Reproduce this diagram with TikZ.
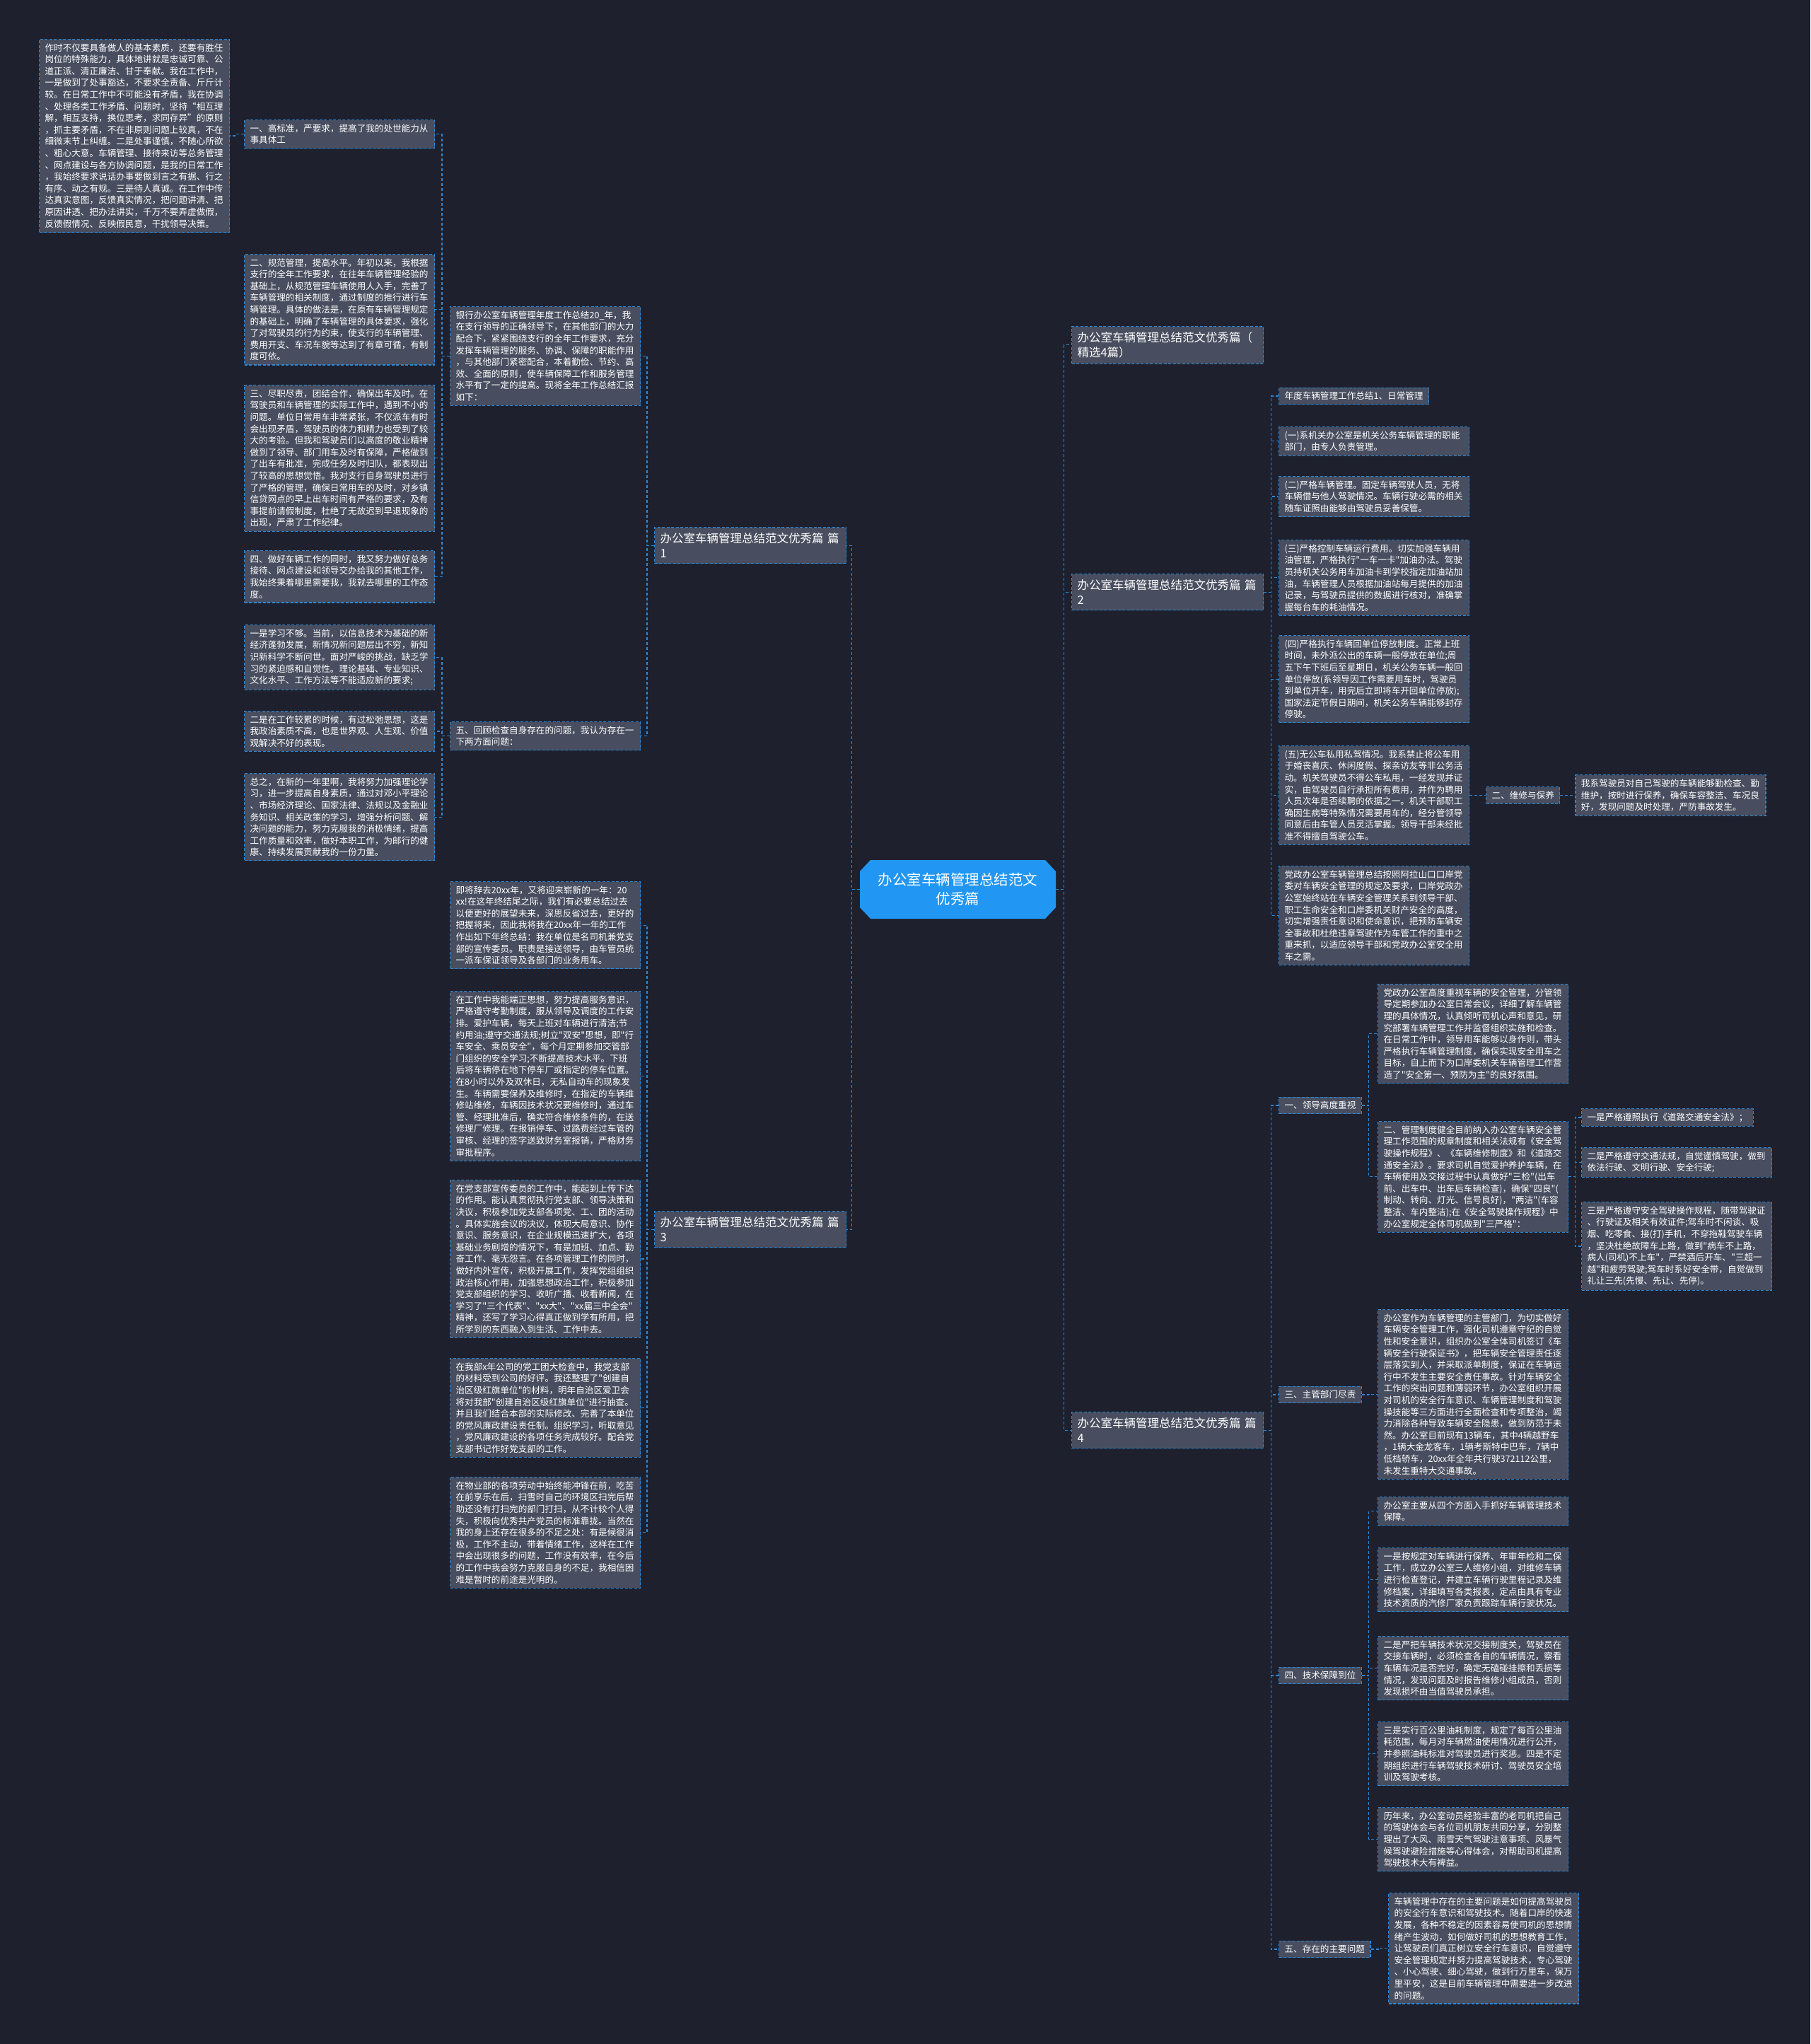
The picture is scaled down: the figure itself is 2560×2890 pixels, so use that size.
\documentclass[tikz,border=0pt]{standalone}
\usepackage{fontspec}
\setmainfont{Noto Sans CJK SC}[Ligatures=TeXOff]
\usepackage{xcolor}
\usepackage{tikz}
\usetikzlibrary{positioning}
\definecolor{pagebg}{HTML}{1E212D}
\definecolor{cardfill}{HTML}{484E5F}
\definecolor{edgeblue}{HTML}{2A88D8}
\definecolor{hubblue}{HTML}{2196F3}

\tikzset{
  base/.style={rectangle, draw=edgeblue, dash pattern=on 4pt off 2.5pt, line width=1.1pt, fill=cardfill, text=white, inner xsep=8pt, inner ysep=6pt},
  card/.style={base, anchor=north west, text width=253pt, align=left, font=\fontsize{12.6pt}{16.6pt}\selectfont},
  tag/.style={base, anchor=west, font=\fontsize{12.6pt}{16.6pt}\selectfont},
  branch/.style={base, anchor=north west, text width=255pt, align=left, inner ysep=8pt, font=\fontsize{16.5pt}{21pt}\selectfont},
  hubtext/.style={text=white, align=center, minimum width=277pt, minimum height=83pt, font=\fontsize{20.5pt}{27pt}\selectfont},
  link/.style={draw=edgeblue, dash pattern=on 4pt off 3pt, line width=1.1pt}
}

\begin{document}
\begin{tikzpicture}[x=1pt, y=-1pt]
\useasboundingbox (0,0) rectangle (2560,2890);
\fill[pagebg] (0,0) rectangle (2560,2890);

% centre
\fill[hubblue] (1231,1216) -- (1478,1216) -- (1493,1232) -- (1493,1283) -- (1478,1299) -- (1231,1299) -- (1216,1283) -- (1216,1232) -- cycle;
\node[hubtext] (hub) at (1354.5,1257.5) {办公室车辆管理总结范文\\优秀篇};

% left half
\node[branch] (p1) at (925,745) {办公室车辆管理总结范文优秀篇 篇\\1};
\node[branch] (p3) at (925,1712) {办公室车辆管理总结范文优秀篇 篇\\3};

\node[card] (m1) at (636,433) {银行办公室车辆管理年度工作总结20\_年，我\\在支行领导的正确领导下，在其他部门的大力\\配合下，紧紧围绕支行的全年工作要求，充分\\发挥车辆管理的服务、协调、保障的职能作用\\，与其他部门紧密配合，本着勤俭、节约、高\\效、全面的原则，使车辆保障工作和服务管理\\水平有了一定的提高。现将全年工作总结汇报\\如下：};
\node[card] (m2) at (636,1020) {五、回顾检查自身存在的问题，我认为存在一\\下两方面问题：};

\node[card] (l1a) at (345,169) {一、高标准，严要求，提高了我的处世能力从\\事具体工};
\node[card] (b1) at (55,55) {作时不仅要具备做人的基本素质，还要有胜任\\岗位的特殊能力，具体地讲就是忠诚可靠、公\\道正派、清正廉洁、甘于奉献。我在工作中，\\一是做到了处事豁达，不要求全责备、斤斤计\\较。在日常工作中不可能没有矛盾，我在协调\\、处理各类工作矛盾、问题时，坚持“相互理\\解，相互支持，换位思考，求同存异”的原则\\，抓主要矛盾，不在非原则问题上较真，不在\\细微末节上纠缠。二是处事谨慎，不随心所欲\\、粗心大意。车辆管理、接待来访等总务管理\\、网点建设与各方协调问题，是我的日常工作\\，我始终要求说话办事要做到言之有据、行之\\有序、动之有规。三是待人真诚。在工作中传\\达真实意图，反馈真实情况，把问题讲清、把\\原因讲透、把办法讲实，千万不要弄虚做假，\\反馈假情况、反映假民意，干扰领导决策。};
\node[card] (l1b) at (345,359) {二、规范管理，提高水平。年初以来，我根据\\支行的全年工作要求，在往年车辆管理经验的\\基础上，从规范管理车辆使用人入手，完善了\\车辆管理的相关制度，通过制度的推行进行车\\辆管理。具体的做法是，在原有车辆管理规定\\的基础上，明确了车辆管理的具体要求，强化\\了对驾驶员的行为约束，使支行的车辆管理、\\费用开支、车况车貌等达到了有章可循，有制\\度可依。};
\node[card] (l1c) at (345,544) {三、尽职尽责，团结合作，确保出车及时。在\\驾驶员和车辆管理的实际工作中，遇到不小的\\问题。单位日常用车非常紧张，不仅派车有时\\会出现矛盾，驾驶员的体力和精力也受到了较\\大的考验。但我和驾驶员们以高度的敬业精神\\做到了领导、部门用车及时有保障，严格做到\\了出车有批准，完成任务及时归队，都表现出\\了较高的思想觉悟。我对支行自身驾驶员进行\\了严格的管理，确保日常用车的及时，对乡镇\\信贷网点的早上出车时间有严格的要求，及有\\事提前请假制度，杜绝了无故迟到早退现象的\\出现，严肃了工作纪律。};
\node[card] (l1d) at (345,778) {四、做好车辆工作的同时，我又努力做好总务\\接待、网点建设和领导交办给我的其他工作，\\我始终秉着哪里需要我，我就去哪里的工作态\\度。};
\node[card] (l1e) at (345,883) {一是学习不够。当前，以信息技术为基础的新\\经济蓬勃发展，新情况新问题层出不穷，新知\\识新科学不断问世。面对严峻的挑战，缺乏学\\习的紧迫感和自觉性。理论基础、专业知识、\\文化水平、工作方法等不能适应新的要求;};
\node[card] (l1f) at (345,1005) {二是在工作较累的时候，有过松弛思想，这是\\我政治素质不高，也是世界观、人生观、价值\\观解决不好的表现。};
\node[card] (l1g) at (345,1093) {总之，在新的一年里啊，我将努力加强理论学\\习，进一步提高自身素质，通过对邓小平理论\\、市场经济理论、国家法律、法规以及金融业\\务知识、相关政策的学习，增强分析问题、解\\决问题的能力，努力克服我的消极情绪，提高\\工作质量和效率，做好本职工作，为邮行的健\\康、持续发展贡献我的一份力量。};

\node[card] (t1) at (636,1246) {即将辞去20xx年，又将迎来崭新的一年：20\\xx!在这年终结尾之际，我们有必要总结过去\\以便更好的展望未来，深思反省过去，更好的\\把握将来，因此我将我在20xx年一年的工作\\作出如下年终总结：我在单位是名司机兼党支\\部的宣传委员。职责是接送领导，由车管员统\\一派车保证领导及各部门的业务用车。};
\node[card] (t2) at (636,1401) {在工作中我能端正思想，努力提高服务意识，\\严格遵守考勤制度，服从领导及调度的工作安\\排。爱护车辆，每天上班对车辆进行清洁;节\\约用油;遵守交通法规;树立"双安"思想，即"行\\车安全、乘员安全"，每个月定期参加交管部\\门组织的安全学习;不断提高技术水平。下班\\后将车辆停在地下停车厂或指定的停车位置。\\在8小时以外及双休日，无私自动车的现象发\\生。车辆需要保养及维修时，在指定的车辆维\\修站维修，车辆因技术状况要维修时，通过车\\管、经理批准后，确实符合维修条件的，在送\\修理厂修理。在报销停车、过路费经过车管的\\审核、经理的签字送致财务室报销，严格财务\\审批程序。};
\node[card] (t3) at (636,1668) {在党支部宣传委员的工作中，能起到上传下达\\的作用。能认真贯彻执行党支部、领导决策和\\决议，积极参加党支部各项党、工、团的活动\\。具体实施会议的决议，体现大局意识、协作\\意识、服务意识，在企业规模迅速扩大，各项\\基础业务剧增的情况下，有是加班、加点、勤\\奋工作、毫无怨言。在各项管理工作的同时，\\做好内外宣传，积极开展工作，发挥党组组织\\政治核心作用，加强思想政治工作，积极参加\\党支部组织的学习、收听广播、收看新闻，在\\学习了"三个代表"、"xx大"、"xx届三中全会"\\精神，还写了学习心得真正做到学有所用，把\\所学到的东西融入到生活、工作中去。};
\node[card] (t4) at (636,1920) {在我部x年公司的党工团大检查中，我党支部\\的材料受到公司的好评。我还整理了"创建自\\治区级红旗单位"的材料，明年自治区爱卫会\\将对我部"创建自治区级红旗单位"进行抽查。\\并且我们结合本部的实际修改、完善了本单位\\的党风廉政建设责任制。组织学习，听取意见\\，党风廉政建设的各项任务完成较好。配合党\\支部书记作好党支部的工作。};
\node[card] (t5) at (636,2088) {在物业部的各项劳动中始终能冲锋在前，吃苦\\在前享乐在后，扫雪时自己的环境区扫完后帮\\助还没有打扫完的部门打扫，从不计较个人得\\失，积极向优秀共产党员的标准靠拢。当然在\\我的身上还存在很多的不足之处：有是候很消\\极，工作不主动，带着情绪工作，这样在工作\\中会出现很多的问题，工作没有效率，在今后\\的工作中我会努力克服自身的不足，我相信困\\难是暂时的前途是光明的。};

% right half
\node[branch] (r0) at (1515,461) {办公室车辆管理总结范文优秀篇（\\精选4篇）};
\node[branch] (r2) at (1515,811) {办公室车辆管理总结范文优秀篇 篇\\2};
\node[branch] (r4) at (1515,1996) {办公室车辆管理总结范文优秀篇 篇\\4};

\node[tag] (s0) at (1808,560) {年度车辆管理工作总结1、日常管理};
\node[card] (s1) at (1808,603) {(一)系机关办公室是机关公务车辆管理的职能\\部门，由专人负责管理。};
\node[card] (s2) at (1808,673) {(二)严格车辆管理。固定车辆驾驶人员，无将\\车辆借与他人驾驶情况。车辆行驶必需的相关\\随车证照由能够由驾驶员妥善保管。};
\node[card] (s3) at (1808,763) {(三)严格控制车辆运行费用。切实加强车辆用\\油管理，严格执行"一车一卡"加油办法。驾驶\\员持机关公务用车加油卡到学校指定加油站加\\油，车辆管理人员根据加油站每月提供的加油\\记录，与驾驶员提供的数据进行核对，准确掌\\握每台车的耗油情况。};
\node[card] (s4) at (1808,898) {(四)严格执行车辆回单位停放制度。正常上班\\时间，未外派公出的车辆一般停放在单位;周\\五下午下班后至星期日，机关公务车辆一般回\\单位停放(系领导因工作需要用车时，驾驶员\\到单位开车，用完后立即将车开回单位停放);\\国家法定节假日期间，机关公务车辆能够封存\\停驶。};
\node[card] (s5) at (1808,1054) {(五)无公车私用私驾情况。我系禁止将公车用\\于婚丧喜庆、休闲度假、探亲访友等非公务活\\动。机关驾驶员不得公车私用，一经发现并证\\实，由驾驶员自行承担所有费用，并作为聘用\\人员次年是否续聘的依据之一。机关干部职工\\确因生病等特殊情况需要用车的，经分管领导\\同意后由车管人员灵活掌握。领导干部未经批\\准不得擅自驾驶公车。};
\node[tag, right=23pt of s5] (s5a) {二、维修与保养};
\node[card, right=21pt of s5a] (s5b) {我系驾驶员对自己驾驶的车辆能够勤检查、勤\\维护，按时进行保养，确保车容整洁、车况良\\好，发现问题及时处理，严防事故发生。};
\node[card] (s6) at (1808,1224) {党政办公室车辆管理总结按照阿拉山口口岸党\\委对车辆安全管理的规定及要求，口岸党政办\\公室始终站在车辆安全管理关系到领导干部、\\职工生命安全和口岸委机关财产安全的高度，\\切实增强责任意识和使命意识，把预防车辆安\\全事故和杜绝违章驾驶作为车管工作的重中之\\重来抓，以适应领导干部和党政办公室安全用\\车之需。};

\node[tag] (f1) at (1808,1563) {一、领导高度重视};
\node[card] (g1) at (1948,1391) {党政办公室高度重视车辆的安全管理，分管领\\导定期参加办公室日常会议，详细了解车辆管\\理的具体情况，认真倾听司机心声和意见，研\\究部署车辆管理工作并监督组织实施和检查。\\在日常工作中，领导用车能够以身作则，带头\\严格执行车辆管理制度，确保实现安全用车之\\目标，自上而下为口岸委机关车辆管理工作营\\造了"安全第一、预防为主"的良好氛围。};
\node[card] (g2) at (1948,1585) {二、管理制度健全目前纳入办公室车辆安全管\\理工作范围的规章制度和相关法规有《安全驾\\驶操作规程》、《车辆维修制度》和《道路交\\通安全法》。要求司机自觉爱护养护车辆，在\\车辆使用及交接过程中认真做好"三检"(出车\\前、出车中、出车后车辆检查)，确保"四良"(\\制动、转向、灯光、信号良好)，"两洁"(车容\\整洁、车内整洁);在《安全驾驶操作规程》中\\办公室规定全体司机做到"三严格"：};
\node[tag] (h1) at (2236,1580) {一是严格遵照执行《道路交通安全法》；};
\node[card] (h2) at (2236,1622) {二是严格遵守交通法规，自觉谨慎驾驶，做到\\依法行驶、文明行驶、安全行驶;};
\node[card] (h3) at (2236,1699) {三是严格遵守安全驾驶操作规程，随带驾驶证\\、行驶证及相关有效证件;驾车时不闲谈、吸\\烟、吃零食、接(打)手机，不穿拖鞋驾驶车辆\\，坚决杜绝故障车上路，做到"病车不上路，\\病人(司机)不上车"，严禁酒后开车、"三超一\\越"和疲劳驾驶;驾车时系好安全带，自觉做到\\礼让三先(先慢、先让、先停)。};

\node[tag] (f3) at (1808,1972) {三、主管部门尽责};
\node[card] (g3) at (1948,1851) {办公室作为车辆管理的主管部门，为切实做好\\车辆安全管理工作，强化司机遵章守纪的自觉\\性和安全意识，组织办公室全体司机签订《车\\辆安全行驶保证书》，把车辆安全管理责任逐\\层落实到人，并采取派单制度，保证在车辆运\\行中不发生主要安全责任事故。针对车辆安全\\工作的突出问题和薄弱环节，办公室组织开展\\对司机的安全行车意识、车辆管理制度和驾驶\\操技能等三方面进行全面检查和专项整治，竭\\力消除各种导致车辆安全隐患，做到防范于未\\然。办公室目前现有13辆车，其中4辆越野车\\，1辆大金龙客车，1辆考斯特中巴车，7辆中\\低档轿车，20xx年全年共行驶372112公里，\\未发生重特大交通事故。};

\node[tag] (f4) at (1808,2369) {四、技术保障到位};
\node[card] (g4) at (1948,2116) {办公室主要从四个方面入手抓好车辆管理技术\\保障。};
\node[card] (g5) at (1948,2188) {一是按规定对车辆进行保养、年审年检和二保\\工作，成立办公室三人维修小组，对维修车辆\\进行检查登记，并建立车辆行驶里程记录及维\\修档案，详细填写各类报表，定点由具有专业\\技术资质的汽修厂家负责跟踪车辆行驶状况。};
\node[card] (g6) at (1948,2313) {二是严把车辆技术状况交接制度关，驾驶员在\\交接车辆时，必须检查各自的车辆情况，察看\\车辆车况是否完好，确定无磕碰挂擦和丢损等\\情况，发现问题及时报告维修小组成员，否则\\发现损坏由当值驾驶员承担。};
\node[card] (g7) at (1948,2434) {三是实行百公里油耗制度，规定了每百公里油\\耗范围，每月对车辆燃油使用情况进行公开，\\并参照油耗标准对驾驶员进行奖惩。四是不定\\期组织进行车辆驾驶技术研讨、驾驶员安全培\\训及驾驶考核。};
\node[card] (g8) at (1948,2555) {历年来，办公室动员经验丰富的老司机把自己\\的驾驶体会与各位司机朋友共同分享，分别整\\理出了大风、雨雪天气驾驶注意事项、风暴气\\候驾驶避险措施等心得体会，对帮助司机提高\\驾驶技术大有裨益。};

\node[tag] (f5) at (1808,2756) {五、存在的主要问题};
\node[card] (g9) at (1963,2676) {车辆管理中存在的主要问题是如何提高驾驶员\\的安全行车意识和驾驶技术。随着口岸的快速\\发展，各种不稳定的因素容易使司机的思想情\\绪产生波动，如何做好司机的思想教育工作，\\让驾驶员们真正树立安全行车意识，自觉遵守\\安全管理规定并努力提高驾驶技术，专心驾驶\\、小心驾驶、细心驾驶，做到行万里车，保万\\里平安，这是目前车辆管理中需要进一步改进\\的问题。};

% connectors, left
\draw[link] (hub.west) -- ++(-11,0) |- (p1.east);
\draw[link] (hub.west) -- ++(-11,0) |- (p3.east);
\draw[link] (p1.west) -- ++(-10,0) |- (m1.east);
\draw[link] (p1.west) -- ++(-10,0) |- (m2.east);
\draw[link] (m1.west) -- ++(-11,0) |- (l1a.east);
\draw[link] (m1.west) -- ++(-11,0) |- (l1b.east);
\draw[link] (m1.west) -- ++(-11,0) |- (l1c.east);
\draw[link] (m1.west) -- ++(-11,0) |- (l1d.east);
\draw[link] (m2.west) -- ++(-11,0) |- (l1e.east);
\draw[link] (m2.west) -- ++(-11,0) |- (l1f.east);
\draw[link] (m2.west) -- ++(-11,0) |- (l1g.east);
\draw[link] (l1a.west) -- ++(-11,0) |- (b1.east);
\draw[link] (p3.west) -- ++(-10,0) |- (t1.east);
\draw[link] (p3.west) -- ++(-10,0) |- (t2.east);
\draw[link] (p3.west) -- ++(-10,0) |- (t3.east);
\draw[link] (p3.west) -- ++(-10,0) |- (t4.east);
\draw[link] (p3.west) -- ++(-10,0) |- (t5.east);

% connectors, right
\draw[link] (hub.east) -- ++(11,0) |- (r0.west);
\draw[link] (hub.east) -- ++(11,0) |- (r2.west);
\draw[link] (hub.east) -- ++(11,0) |- (r4.west);
\draw[link] (r2.east) -- ++(10,0) |- (s0.west);
\draw[link] (r2.east) -- ++(10,0) |- (s1.west);
\draw[link] (r2.east) -- ++(10,0) |- (s2.west);
\draw[link] (r2.east) -- ++(10,0) |- (s3.west);
\draw[link] (r2.east) -- ++(10,0) |- (s4.west);
\draw[link] (r2.east) -- ++(10,0) |- (s5.west);
\draw[link] (r2.east) -- ++(10,0) |- (s6.west);
\draw[link] (s5) -- (s5a);
\draw[link] (s5a) -- (s5b);
\draw[link] (r4.east) -- ++(10,0) |- (f1.west);
\draw[link] (r4.east) -- ++(10,0) |- (f3.west);
\draw[link] (r4.east) -- ++(10,0) |- (f4.west);
\draw[link] (r4.east) -- ++(10,0) |- (f5.west);
\draw[link] (f1.east) -- ++(10,0) |- (g1.west);
\draw[link] (f1.east) -- ++(10,0) |- (g2.west);
\draw[link] (g2.east) -- ++(9,0) |- (h1.west);
\draw[link] (g2.east) -- ++(9,0) |- (h2.west);
\draw[link] (g2.east) -- ++(9,0) |- (h3.west);
\draw[link] (f3.east) -- ++(10,0) |- (g3.west);
\draw[link] (f4.east) -- ++(10,0) |- (g4.west);
\draw[link] (f4.east) -- ++(10,0) |- (g5.west);
\draw[link] (f4.east) -- ++(10,0) |- (g6.west);
\draw[link] (f4.east) -- ++(10,0) |- (g7.west);
\draw[link] (f4.east) -- ++(10,0) |- (g8.west);
\draw[link] (f5.east) -- ++(12,0) |- (g9.west);
\end{tikzpicture}
\end{document}
